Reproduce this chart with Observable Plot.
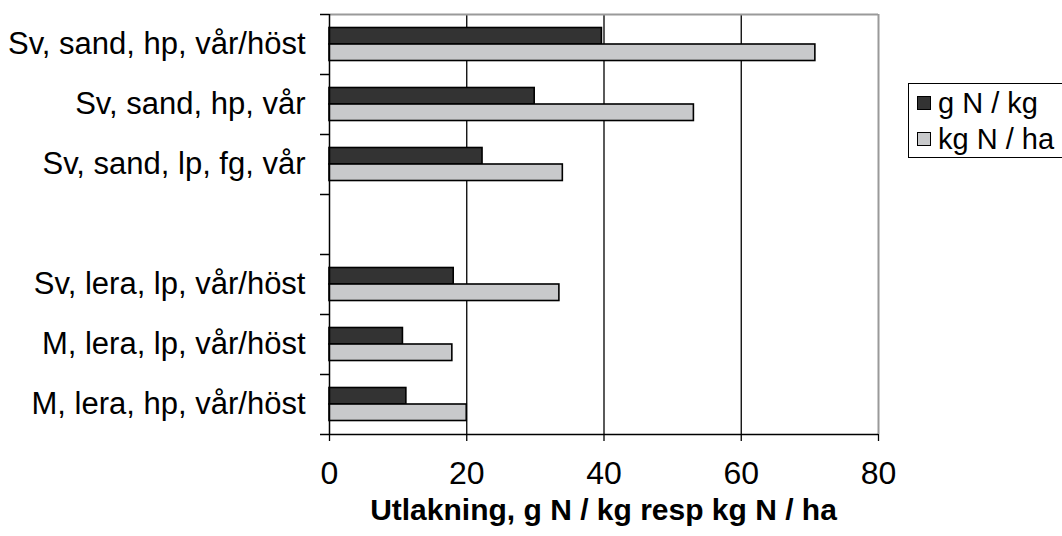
<!DOCTYPE html>
<html>
<head>
<meta charset="utf-8">
<script src="https://cdn.jsdelivr.net/npm/d3@7"></script>
<script src="https://cdn.jsdelivr.net/npm/@observablehq/plot@0.6"></script>
<style>
  html, body { margin: 0; padding: 0; background: #fff; }
  #chart { position: relative; width: 1062px; height: 536px; overflow: hidden; font-family: "Liberation Sans", Arial, sans-serif; }
  #legend { position: absolute; left: 908px; top: 83px; width: 170px; border: 1px solid #000; background: #fff; padding: 1px 0 0 8px; box-sizing: border-box; }
  #legend .row { display: flex; align-items: center; font-size: 29px; line-height: 36px; height: 36px; white-space: nowrap; }
  #legend .sw { width: 12px; height: 12px; border: 1.5px solid #000; margin-right: 7px; flex: none; }
  #xtitle { position: absolute; left: 329px; width: 549px; top: 493px; text-align: center; font-weight: bold; font-size: 30px; line-height: 34px; }
</style>
</head>
<body>
<div id="chart"></div>
<script>
// Nitrogen leaching per crop / soil / fertilisation combination
const categories = [
  "Sv, sand, hp, vår/höst",
  "Sv, sand, hp, vår",
  "Sv, sand, lp, fg, vår",
  "",
  "Sv, lera, lp, vår/höst",
  "M, lera, lp, vår/höst",
  "M, lera, hp, vår/höst"
];
const series = ["g N / kg", "kg N / ha"];
const gNperKg  = [39.7, 29.9, 22.3, null, 18.1, 10.7, 11.2];
const kgNperHa = [70.8, 53.1, 34.0, null, 33.5, 17.9, 20.0];
const xTicks = [0, 20, 40, 60, 80];
const colors = ["#333333", "#c8c9cb"];

// one row per bar; each category occupies one unit of the y scale,
// the two series sit side by side in its middle
const rows = [];
categories.forEach((c, i) => {
  [gNperKg, kgNperHa].forEach((vals, s) => {
    if (vals[i] == null) return;
    rows.push({
      category: c,
      series: series[s],
      value: vals[i],
      y1: i + 0.225 + s * 0.275,
      y2: i + 0.5 + s * 0.275
    });
  });
});

const labelPositions = categories.map((c, i) => i + 0.5).filter((v, i) => categories[i] !== "");
const boundaries = d3.range(0, categories.length + 1);

const chart = Plot.plot({
  width: 1062,
  height: 490,
  marginLeft: 329,
  marginRight: 184,
  marginTop: 14,
  marginBottom: 56,
  style: { fontFamily: "'Liberation Sans', Arial, sans-serif", fontSize: "32px", color: "#000", background: "transparent", overflow: "visible" },
  x: { domain: [0, 80] },
  y: { domain: [0, categories.length], reverse: true },
  color: { domain: series, range: colors },
  marks: [
    Plot.ruleX(xTicks.slice(1, -1), { stroke: "#000", strokeWidth: 1.3 }),
    Plot.ruleX([80], { stroke: "#9a9a9a", strokeWidth: 2 }),
    Plot.ruleY([0], { stroke: "#9a9a9a", strokeWidth: 2 }),
    Plot.rectX(rows, { x: "value", y1: "y1", y2: "y2", fill: "series", stroke: "#000", strokeWidth: 1.6 }),
    Plot.ruleX([0], { stroke: "#000", strokeWidth: 1.5 }),
    Plot.ruleY([categories.length], { stroke: "#000", strokeWidth: 1.5 }),
    Plot.axisY(boundaries, { tickSize: 9, tickFormat: () => "", stroke: "#000", strokeWidth: 1.5, label: null }),
    Plot.axisY(labelPositions, { tickSize: 0, tickPadding: 24, fontSize: 31, tickFormat: v => categories[v - 0.5], label: null }),
    Plot.axisX(xTicks, { tickSize: 7, tickPadding: 20, stroke: "#000", strokeWidth: 1.3, label: null })
  ]
});

const root = document.getElementById("chart");
root.appendChild(chart);

const legend = document.createElement("div");
legend.id = "legend";
series.forEach((s, k) => {
  const row = document.createElement("div");
  row.className = "row";
  const sw = document.createElement("span");
  sw.className = "sw";
  sw.style.background = colors[k];
  row.appendChild(sw);
  row.appendChild(document.createTextNode(s));
  legend.appendChild(row);
});
root.appendChild(legend);

const title = document.createElement("div");
title.id = "xtitle";
title.textContent = "Utlakning, g N / kg resp kg N / ha";
root.appendChild(title);
</script>
</body>
</html>
